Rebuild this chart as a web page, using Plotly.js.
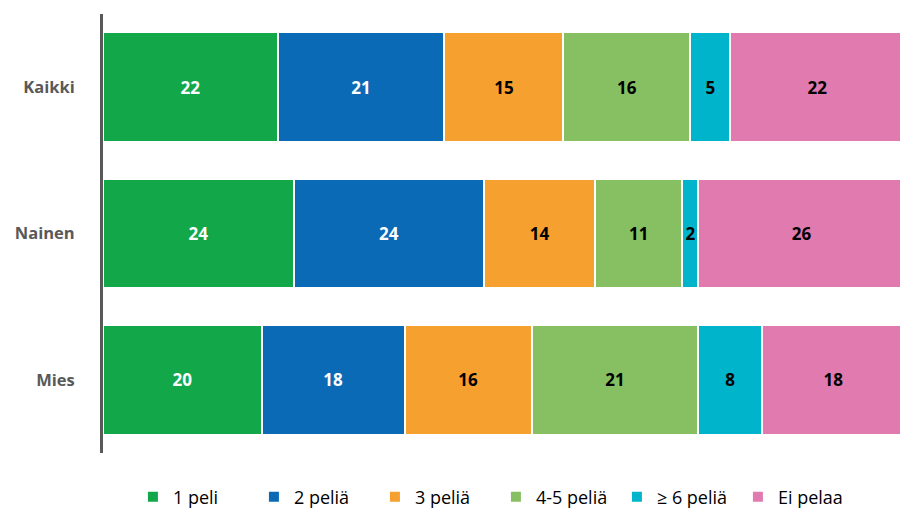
<!DOCTYPE html>
<html>
<head>
<meta charset="utf-8">
<script src="https://cdn.plot.ly/plotly-3.0.1.min.js"></script>
<style>html,body{margin:0;padding:0;background:#fff;}#chart{width:900px;height:509px;}</style>
</head>
<body>
<div id="chart"></div>
<script>
const categories = ["Kaikki", "Nainen", "Mies"];
const seriesNames = ["1 peli", "2 peliä", "3 peliä", "4-5 peliä", "≥ 6 peliä", "Ei pelaa"];
const peli1 = [22, 24, 20];
const peli2 = [21, 24, 18];
const peli3 = [15, 14, 16];
const peli45 = [16, 11, 21];
const peli6 = [5, 2, 8];
const eiPelaa = [22, 26, 18];

const seriesValues = [peli1, peli2, peli3, peli45, peli6, eiPelaa];
const colors = ["#12A84A", "#0A6AB6", "#F5A02F", "#86C062", "#00B4CC", "#E07AAF"];
const textColors = ["#FFFFFF", "#FFFFFF", "#000000", "#000000", "#000000", "#000000"];

const traces = seriesValues.map((vals, i) => ({
  type: 'bar',
  orientation: 'h',
  name: seriesNames[i],
  y: categories,
  x: vals,
  text: vals.map(String),
  texttemplate: '%{text}',
  textposition: 'inside',
  insidetextanchor: 'middle',
  textangle: 0,
  constraintext: 'none',
  insidetextfont: {family: 'Open Sans, sans-serif', size: 17, color: textColors[i], weight: 'bold'},
  marker: {color: colors[i], line: {color: '#FFFFFF', width: 2}},
  hoverinfo: 'none'
}));

const layout = {
  width: 900,
  height: 509,
  barmode: 'stack',
  bargap: 0.25,
  margin: {l: 103, r: 0, t: 14, b: 56, autoexpand: false},
  paper_bgcolor: '#FFFFFF',
  plot_bgcolor: '#FFFFFF',
  showlegend: true,
  font: {family: 'Open Sans, sans-serif'},
  xaxis: {
    range: [0, 100.4],
    showgrid: false,
    zeroline: false,
    showticklabels: false,
    showline: false,
    fixedrange: true
  },
  yaxis: {
    autorange: 'reversed',
    showgrid: false,
    zeroline: false,
    showline: true,
    linecolor: '#595959',
    linewidth: 3,
    ticks: '',
    ticklabelstandoff: 22,
    tickfont: {family: 'Open Sans, sans-serif', size: 16.5, color: '#595959', weight: 'bold'}
  },
  legend: {
    orientation: 'h',
    x: 0.493,
    xanchor: 'center',
    xref: 'paper',
    y: 12 / 509,
    yref: 'container',
    yanchor: 'middle',
    traceorder: 'normal',
    font: {family: 'Open Sans, sans-serif', size: 18, color: '#000000'},
    itemwidth: 30,
    entrywidth: 76,
    itemclick: false
  }
};

Plotly.newPlot('chart', traces, layout, {displayModeBar: false, staticPlot: true});
</script>
</body>
</html>
